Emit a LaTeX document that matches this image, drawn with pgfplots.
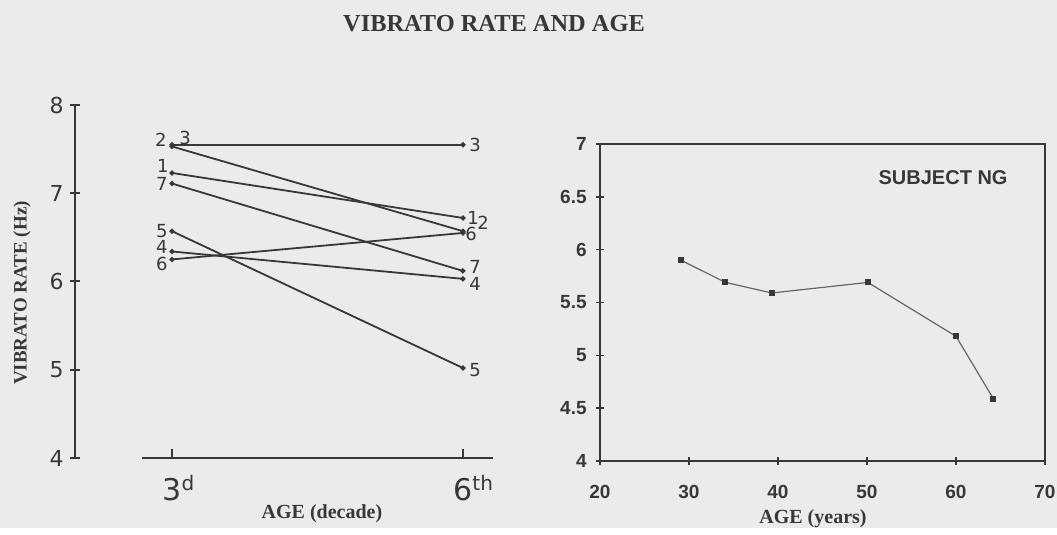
\documentclass[border=0pt]{standalone}
\usepackage{fontspec}
\setmainfont{Liberation Serif}
\setsansfont{Liberation Sans}
\newfontfamily\dejavu{DejaVu Sans}
\usepackage{pgfplots}
\pgfplotsset{compat=1.18}
\definecolor{paper}{HTML}{EBEBEB}
\definecolor{ink}{HTML}{383838}
\definecolor{inkl}{HTML}{666666}
\tikzset{
  lab/.style={font=\dejavu\fontsize{9}{9}\selectfont, text=ink, inner sep=0pt},
  rl/.style={draw=ink, line width=0.9pt, mark=*, mark size=0.8pt, mark options={fill=ink, draw=ink}},
}

\begin{document}
\begin{tikzpicture}
\fill[paper] (0,0) rectangle (528.5pt,264pt);

% titles and axis names
\node[font=\bfseries\fontsize{12.2}{14}\selectfont, text=ink] at (247pt,252pt) {VIBRATO RATE AND AGE};
\node[font=\bfseries\fontsize{9.5}{11}\selectfont, text=ink, rotate=90] at (11pt,117.5pt) {VIBRATO RATE (Hz)};
\node[font=\bfseries\fontsize{10}{12}\selectfont, text=ink, anchor=base] at (161pt,4.5pt) {AGE (decade)};
\node[font=\bfseries\fontsize{10}{12}\selectfont, text=ink, anchor=base] at (406.5pt,2pt) {AGE (years)};

% left panel: rate in the 3rd and 6th decade
\begin{axis}[
  at={(37.5pt,35pt)}, anchor=south west, scale only axis,
  width=209pt, height=176.5pt,
  xmin=2, xmax=6.31, ymin=4, ymax=8,
  axis y line*=left, axis x line*=bottom,
  x axis line style={draw=none},
  y axis line style={line width=1.4pt, draw=ink},
  xtick={3,6},
  xticklabels={3\rlap{\raisebox{5pt}{\fontsize{10}{10}\selectfont d}},6\rlap{\raisebox{5pt}{\fontsize{10}{10}\selectfont th}}},
  ytick={4,5,6,7,8},
  tick align=center, major tick length=5pt,
  tick style={draw=ink, line width=1pt},
  x tick style={yshift=2pt},
  /pgf/number format/assume math mode=true,
  yticklabel style={font=\dejavu\fontsize{11}{13}\selectfont, text=ink, inner sep=0pt, xshift=-3pt},
  xticklabel style={font=\dejavu\fontsize{15}{15}\selectfont, text=ink, inner sep=0pt, yshift=-6pt},
  clip=false,
]
\addplot[draw=ink, line width=1pt, forget plot] coordinates {(2.69,4) (6.31,4)};
\addplot[rl] coordinates {(3,7.23) (6,6.72)}; % 1
\addplot[rl] coordinates {(3,7.53) (6,6.57)}; % 2
\addplot[rl] coordinates {(3,7.55) (6,7.55)}; % 3
\addplot[rl] coordinates {(3,6.34) (6,6.03)}; % 4
\addplot[rl] coordinates {(3,6.57) (6,5.02)}; % 5
\addplot[rl] coordinates {(3,6.25) (6,6.55)}; % 6
\addplot[rl] coordinates {(3,7.11) (6,6.12)}; % 7
% left-end labels
\node[lab, anchor=base east, xshift=-2.5pt, yshift=-1pt] at (axis cs:3,7.55) {2};
\node[lab, anchor=base west, xshift=3.5pt] at (axis cs:3,7.55) {3};
\node[lab, anchor=base east, xshift=-1.5pt] at (axis cs:3,7.23) {1};
\node[lab, anchor=east, xshift=-2pt] at (axis cs:3,7.11) {7};
\node[lab, anchor=east, xshift=-2pt] at (axis cs:3,6.57) {5};
\node[lab, anchor=east, xshift=-2pt, yshift=2.5pt] at (axis cs:3,6.34) {4};
\node[lab, anchor=east, xshift=-2pt, yshift=-2.5pt] at (axis cs:3,6.25) {6};
% right-end labels
\node[lab, anchor=west, xshift=3pt] at (axis cs:6,7.55) {3};
\node[lab, anchor=west, xshift=2pt] at (axis cs:6,6.72) {1};
\node[lab, anchor=west, xshift=7pt, yshift=-2.5pt] at (axis cs:6,6.72) {2};
\node[lab, anchor=west, xshift=1pt, yshift=-1.5pt] at (axis cs:6,6.57) {6};
\node[lab, anchor=west, xshift=3pt, yshift=2pt] at (axis cs:6,6.12) {7};
\node[lab, anchor=west, xshift=3pt, yshift=-2.5pt] at (axis cs:6,6.03) {4};
\node[lab, anchor=west, xshift=3pt, yshift=-1pt] at (axis cs:6,5.02) {5};
\end{axis}

% right panel: subject NG
\begin{axis}[
  at={(300pt,33.5pt)}, anchor=south west, scale only axis,
  width=222.5pt, height=158.5pt,
  xmin=20, xmax=70, ymin=4, ymax=7,
  xtick={20,30,...,70}, ytick={4,4.5,...,7},
  xtick pos=bottom, ytick pos=left,
  axis line style={line width=1.2pt, draw=ink},
  tick align=center, major tick length=4pt,
  tick style={draw=ink, line width=0.7pt},
  /pgf/number format/assume math mode=true,
  ticklabel style={font=\sffamily\bfseries\fontsize{9.5}{11}\selectfont, text=ink, inner sep=0pt},
  yticklabel style={xshift=-4.5pt},
  xticklabel style={yshift=-10pt},
  clip=false,
]
\addplot[inkl, line width=0.6pt, mark=square*, mark size=1.2pt, mark options={fill=ink, draw=ink}]
  coordinates {(29.1,5.90) (34.1,5.69) (39.3,5.59) (50.1,5.69) (60.0,5.18) (64.2,4.59)};
\node[font=\sffamily\bfseries\fontsize{10}{12}\selectfont, text=ink] at (rel axis cs:0.771,0.893) {SUBJECT NG};
\end{axis}
\end{tikzpicture}
\end{document}
